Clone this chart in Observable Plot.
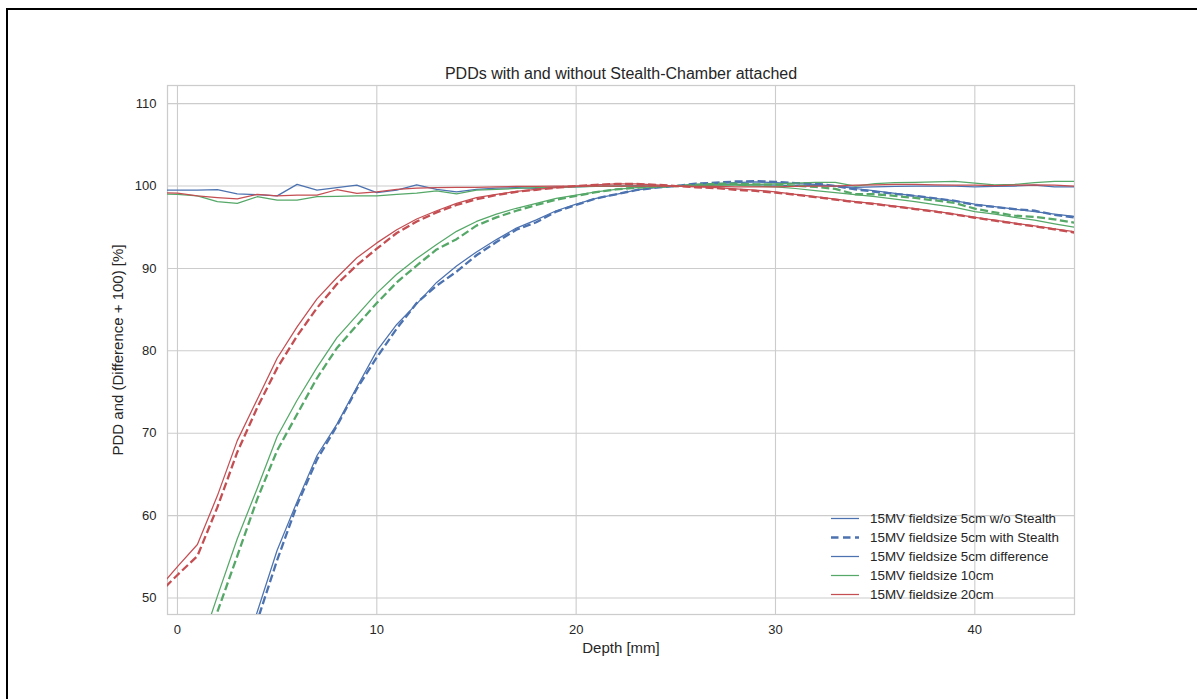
<!DOCTYPE html>
<html><head><meta charset="utf-8">
<script src="https://cdn.jsdelivr.net/npm/d3@7"></script>
<script src="https://cdn.jsdelivr.net/npm/@observablehq/plot@0.6"></script>
<style>
body{margin:0;background:#fff;font-family:"Liberation Sans",Arial,sans-serif;}
#border{position:absolute;left:6px;top:8px;width:1300px;height:800px;border-top:2px solid #000;border-left:2px solid #000;box-sizing:border-box;}
#chart{position:absolute;left:0;top:0;}
#legend{position:absolute;left:831px;top:509px;font-size:13.4px;color:#262626;}
#legend .row{display:flex;align-items:center;height:19px;}
#legend svg{width:28px;height:19px;margin-right:11px;}
#legend span{white-space:nowrap;}
</style></head><body>
<div id="border"></div>
<div id="chart"></div>
<div id="legend"></div>
<script>
// Depth [mm]
const depth = [-1,0,1,2,3,4,5,6,7,8,9,10,11,12,13,14,15,16,17,18,19,20,21,22,23,24,25,26,27,28,29,30,31,32,33,34,35,36,37,38,39,40,41,42,43,44,45];

// 5 cm field
const f5_without = [null,null,null,null,41.0,48.3,55.8,61.7,67.3,71.1,75.6,80.0,83.2,85.7,88.3,90.3,92.0,93.5,94.9,95.9,97.0,97.8,98.5,99.0,99.5,99.8,100.0,100.2,100.3,100.4,100.5,100.4,100.3,100.2,100.0,99.7,99.4,99.1,98.8,98.5,98.2,97.8,97.5,97.2,96.9,96.6,96.3];
const f5_with    = [null,null,null,null,40.0,47.2,54.6,61.3,66.8,70.9,75.4,79.2,82.7,85.8,87.9,89.6,91.6,93.2,94.7,95.6,96.9,97.7,98.5,99.0,99.5,99.8,100.0,100.3,100.4,100.55,100.6,100.5,100.35,100.3,100.0,99.6,99.3,99.05,98.8,98.5,98.2,97.7,97.45,97.2,97.0,96.5,96.2];
const f5_diff    = [99.5,99.5,99.5,99.55,99.05,98.95,98.8,100.2,99.5,99.8,100.1,99.2,99.5,100.15,99.6,99.3,99.6,99.75,99.8,99.7,99.9,99.9,100.0,100.0,100.05,100.0,100.0,100.1,100.15,100.2,100.15,100.1,100.05,100.1,100.0,99.85,99.9,99.95,100.0,100.0,100.0,99.9,99.95,100.0,100.1,99.9,99.9];

// 10 cm field
const f10_without = [null,null,43.0,50.2,57.2,63.3,69.6,74.0,78.0,81.6,84.3,87.0,89.3,91.2,92.9,94.5,95.7,96.6,97.3,97.9,98.5,98.9,99.3,99.6,99.8,99.9,100.0,100.05,100.1,100.1,100.0,99.9,99.7,99.45,99.2,98.95,98.7,98.4,98.1,97.75,97.4,96.9,96.6,96.2,95.85,95.4,95.0];
const f10_with    = [null,null,41.8,48.3,55.1,62.0,67.9,72.3,76.7,80.35,83.1,85.8,88.3,90.35,92.3,93.55,95.2,96.2,97.0,97.7,98.35,98.8,99.25,99.6,99.8,99.9,100.0,100.15,100.25,100.3,100.2,100.15,100.05,99.9,99.65,99.0,99.0,98.8,98.55,98.25,97.95,97.25,96.8,96.4,96.25,95.95,95.55];
const f10_diff    = [99.05,99.0,98.8,98.1,97.9,98.7,98.3,98.3,98.7,98.75,98.8,98.8,99.0,99.15,99.4,99.05,99.5,99.6,99.7,99.8,99.85,99.9,99.95,100.0,100.0,100.0,100.0,100.1,100.15,100.2,100.2,100.25,100.35,100.45,100.45,100.0,100.3,100.4,100.45,100.5,100.55,100.35,100.15,100.2,100.4,100.55,100.55];

// 20 cm field
const f20_without = [51.0,53.8,56.5,62.4,69.1,74.1,79.1,82.9,86.3,88.9,91.3,93.1,94.7,96.0,97.0,97.9,98.6,99.0,99.35,99.6,99.8,100.0,100.15,100.25,100.25,100.15,100.0,99.9,99.8,99.65,99.5,99.3,99.0,98.7,98.4,98.1,97.85,97.55,97.25,96.95,96.6,96.2,95.85,95.5,95.15,94.8,94.45];
const f20_with    = [50.4,52.8,55.1,61.0,67.7,73.1,77.9,81.8,85.2,88.1,90.4,92.4,94.3,95.7,96.8,97.7,98.4,98.9,99.3,99.55,99.8,100.0,100.15,100.25,100.25,100.15,100.0,99.85,99.75,99.55,99.4,99.2,98.95,98.65,98.35,98.05,97.8,97.5,97.2,96.9,96.55,96.15,95.8,95.45,95.1,94.75,94.35];
const f20_diff    = [99.2,99.15,98.8,98.6,98.45,99.0,98.8,98.9,98.9,99.55,99.1,99.3,99.6,99.75,99.8,99.85,99.85,99.9,99.95,99.95,100.0,100.0,100.0,100.0,100.0,100.0,100.0,99.95,99.95,99.9,99.9,99.9,99.95,100.0,100.0,100.1,100.15,100.2,100.2,100.15,100.1,100.1,100.05,100.1,100.15,100.1,100.0];

const xTicks = [0,10,20,30,40];
const yTicks = [50,60,70,80,90,100,110];
const titleText = "PDDs with and without Stealth-Chamber attached";
const xLabel = "Depth [mm]";
const yLabel = "PDD and (Difference + 100) [%]";

const blue = "#4C72B0", green = "#55A868", red = "#C44E52";

const series = [
  {values: f5_without,  color: blue,  dashed: false, legend: "15MV fieldsize 5cm w/o Stealth"},
  {values: f5_with,     color: blue,  dashed: true,  legend: "15MV fieldsize 5cm with Stealth"},
  {values: f5_diff,     color: blue,  dashed: false, legend: "15MV fieldsize 5cm difference"},
  {values: f10_without, color: green, dashed: false, legend: "15MV fieldsize 10cm"},
  {values: f10_with,    color: green, dashed: true,  legend: null},
  {values: f10_diff,    color: green, dashed: false, legend: null},
  {values: f20_without, color: red,   dashed: false, legend: "15MV fieldsize 20cm"},
  {values: f20_with,    color: red,   dashed: true,  legend: null},
  {values: f20_diff,    color: red,   dashed: false, legend: null}
];

const lineMarks = series.map(s => {
  const data = depth.map((d, i) => ({depth: d, value: s.values[i]}));
  return Plot.line(data, {
    x: "depth", y: "value",
    stroke: s.color,
    strokeWidth: s.dashed ? 2.3 : 1.25,
    strokeDasharray: s.dashed ? "8,3.5" : null,
    strokeLinecap: "butt",
    clip: true
  });
});

const chart = Plot.plot({
  width: 1197,
  height: 699,
  marginLeft: 167,
  marginRight: 123,
  marginTop: 85,
  marginBottom: 85,
  style: {fontFamily: "'Liberation Sans', Arial, sans-serif", color: "#262626", background: "transparent"},
  x: {domain: [-0.5, 45]},
  y: {domain: [48, 112.2]},
  marks: [
    Plot.gridX(xTicks, {stroke: "#cccccc", strokeOpacity: 1, strokeWidth: 1.1}),
    Plot.gridY(yTicks, {stroke: "#cccccc", strokeOpacity: 1, strokeWidth: 1.1}),
    Plot.frame({stroke: "#cccccc", strokeWidth: 1.25}),
    ...lineMarks,
    Plot.axisX(xTicks, {tickSize: 0, tickPadding: 10, label: null, fontSize: 13}),
    Plot.axisY(yTicks, {tickSize: 0, tickPadding: 11, label: null, fontSize: 13}),
    Plot.text([titleText], {frameAnchor: "top", lineAnchor: "middle", textAnchor: "middle", dy: -12, fontSize: 16, fill: "#262626"}),
    Plot.text([xLabel], {frameAnchor: "bottom", lineAnchor: "middle", textAnchor: "middle", dy: 34, fontSize: 15, fill: "#262626"}),
    Plot.text([yLabel], {frameAnchor: "left", lineAnchor: "middle", textAnchor: "middle", dx: -49, rotate: -90, fontSize: 15, fill: "#262626"})
  ]
});
document.getElementById("chart").appendChild(chart);

// Legend
const leg = document.getElementById("legend");
for (const s of series.filter(s => s.legend)) {
  const row = document.createElement("div");
  row.className = "row";
  row.innerHTML = `<svg viewBox="0 0 28 19"><line x1="0" x2="28" y1="9.5" y2="9.5" stroke="${s.color}" stroke-width="${s.dashed ? 2.6 : 1.25}" ${s.dashed ? 'stroke-dasharray="7.5,4.5"' : ''}/></svg><span>${s.legend}</span>`;
  leg.appendChild(row);
}
</script>
</body></html>
